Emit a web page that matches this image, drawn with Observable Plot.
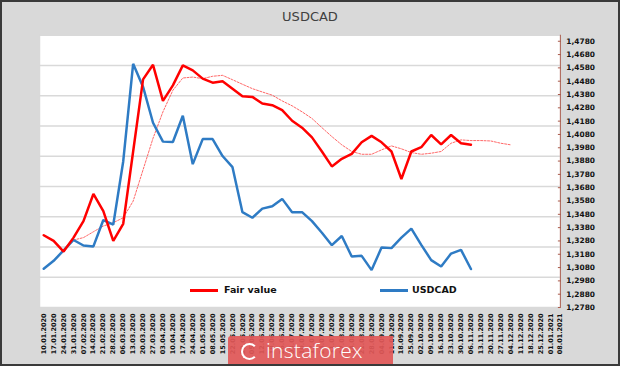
<!DOCTYPE html>
<html><head><meta charset="utf-8">
<script src="https://cdn.jsdelivr.net/npm/d3@7"></script>
<script src="https://cdn.jsdelivr.net/npm/@observablehq/plot@0.6"></script>
<style>
html,body{margin:0;padding:0;background:#d9d9d9;}
#wrap{position:relative;width:620px;height:366px;background:#d9d9d9;box-sizing:border-box;border:2px solid #3a3a3a;overflow:hidden;font-family:"DejaVu Sans",sans-serif;}
#title{position:absolute;left:0;right:0;top:7px;text-align:center;font-size:13px;color:#404040;}
#chart{position:absolute;left:-2px;top:-2px;}
.lg{position:absolute;font-weight:bold;font-size:9.5px;color:#111;}
.lgline{position:absolute;height:3px;}
#wm{position:absolute;left:226px;top:334px;width:165px;height:34px;background:rgba(226,88,88,0.92);border-radius:3px 0 0 0;}
#wm span{position:absolute;left:38px;top:1px;font-family:"Open Sans",sans-serif;font-weight:300;font-size:21px;line-height:26px;color:#fff;letter-spacing:0.3px;}
#wm i{position:absolute;left:13px;top:7px;width:13px;height:13px;border:2px solid #fff;border-radius:50%;border-right-color:transparent;}
</style></head>
<body>
<div id="wrap">
  <div id="title">USDCAD</div>
  <div id="chart"></div>
  <div class="lgline" style="left:188px;top:287px;width:28px;background:#ff0000"></div>
  <div class="lg" style="left:222px;top:282px">Fair value</div>
  <div class="lgline" style="left:378px;top:287px;width:28px;background:#2e7bc4"></div>
  <div class="lg" style="left:410px;top:282px">USDCAD</div>
  <div id="wm"><i></i><span>instaforex</span></div>
</div>
<script>
const dates = ["10.01.2020","17.01.2020","24.01.2020","31.01.2020","07.02.2020","14.02.2020","21.02.2020","28.02.2020","06.03.2020","13.03.2020","20.03.2020","27.03.2020","03.04.2020","10.04.2020","17.04.2020","24.04.2020","01.05.2020","08.05.2020","15.05.2020","22.05.2020","29.05.2020","05.06.2020","12.06.2020","19.06.2020","26.06.2020","03.07.2020","10.07.2020","17.07.2020","24.07.2020","31.07.2020","07.08.2020","14.08.2020","21.08.2020","28.08.2020","04.09.2020","11.09.2020","18.09.2020","25.09.2020","02.10.2020","09.10.2020","16.10.2020","23.10.2020","30.10.2020","06.11.2020","13.11.2020","20.11.2020","27.11.2020","04.12.2020","11.12.2020","18.12.2020","25.12.2020","01.01.2021","08.01.2021"];

const usdcad = [1.3071,1.3131,1.3209,1.3287,1.3246,1.3239,1.3437,1.3403,1.3877,1.4611,
1.4437,1.4168,1.4026,1.4023,1.4220,1.3857,1.4045,1.4045,1.3918,1.3834,
1.3496,1.3454,1.3523,1.3541,1.3596,1.3496,1.3496,1.3429,1.3342,1.3248,
1.3317,1.3163,1.3168,1.3061,1.3230,1.3226,1.3305,1.3372,1.3250,1.3136,
1.3088,1.3185,1.3213,1.3069];

const fairValue = [1.3323,1.3280,1.3200,1.3305,1.3429,1.3633,1.3504,1.3280,1.3409,1.3952,
1.4494,1.4603,1.4332,1.4449,1.4599,1.4561,1.4499,1.4469,1.4479,1.4424,
1.4367,1.4362,1.4312,1.4300,1.4263,1.4183,1.4131,1.4058,1.3952,1.3840,
1.3897,1.3934,1.4021,1.4069,1.4021,1.3952,1.3745,1.3952,1.3984,1.4076,
1.4006,1.4076,1.4014,1.4002];

const fairTrend = [null,null,null,1.3287,1.3305,1.3349,1.3392,1.3417,1.3454,1.3579,1.3815,1.4051,1.4250,
1.4412,1.4504,1.4511,1.4499,1.4517,1.4524,1.4491,1.4457,1.4424,1.4399,
1.4375,1.4332,1.4295,1.4250,1.4200,1.4131,1.4064,1.4002,1.3952,1.3931,
1.3931,1.3964,1.3994,1.3972,1.3944,1.3931,1.3939,1.3952,1.4014,1.4039,
1.4034,1.4034,1.4031,1.4014,1.4002];

const yTicks = [1.278,1.288,1.298,1.308,1.318,1.328,1.338,1.348,1.358,1.368,1.378,1.388,1.398,1.408,1.418,1.428,1.438,1.448,1.458,1.468,1.478];
const yMin = 1.278, yMax = 1.4825, gridCount = 9;
const gridValues = d3.range(gridCount + 1).map(k => yMin + k * (yMax - yMin) / gridCount);

const toRows = arr => arr.map((v, i) => ({i, v})).filter(d => d.v != null);

const chart = Plot.plot({
  width: 622, height: 368,
  marginLeft: 40, marginRight: 58.5, marginTop: 35, marginBottom: 59,
  style: {background: "transparent", fontFamily: "DejaVu Sans", overflow: "visible", color: "#111"},
  x: {type: "linear", domain: [-0.35, 52]},
  y: {domain: [yMin, yMax]},
  marks: [
    Plot.frame({fill: "white", stroke: "none"}),
    Plot.ruleY(gridValues, {stroke: "#d9d9d9", strokeWidth: 1.5}),
    Plot.line(toRows(fairTrend), {x: "i", y: "v", stroke: "#ff4040", strokeWidth: 1, strokeDasharray: "2,1.5", strokeOpacity: 0.8}),
    Plot.line(toRows(usdcad), {x: "i", y: "v", stroke: "#2e7bc4", strokeWidth: 2.5, strokeLinejoin: "miter"}),
    Plot.line(toRows(fairValue), {x: "i", y: "v", stroke: "#ff0000", strokeWidth: 2.5, strokeLinejoin: "miter"}),
    Plot.ruleX([52], {stroke: "#a85a4a", strokeWidth: 1}),
    Plot.axisY({anchor: "right", ticks: yTicks, tickSize: -3, tickPadding: 9, stroke: "#a85a4a",
      tickFormat: d => d.toFixed(4).replace(".", ","), fontSize: 7.5, fontWeight: "bold", label: null}),
    Plot.axisX({ticks: d3.range(dates.length), tickFormat: i => dates[i], tickRotate: -90, tickSize: 0,
      tickPadding: 6, fontSize: 6.5, fontWeight: "bold", label: null})
  ]
});
document.getElementById("chart").appendChild(chart);
</script>
</body></html>
